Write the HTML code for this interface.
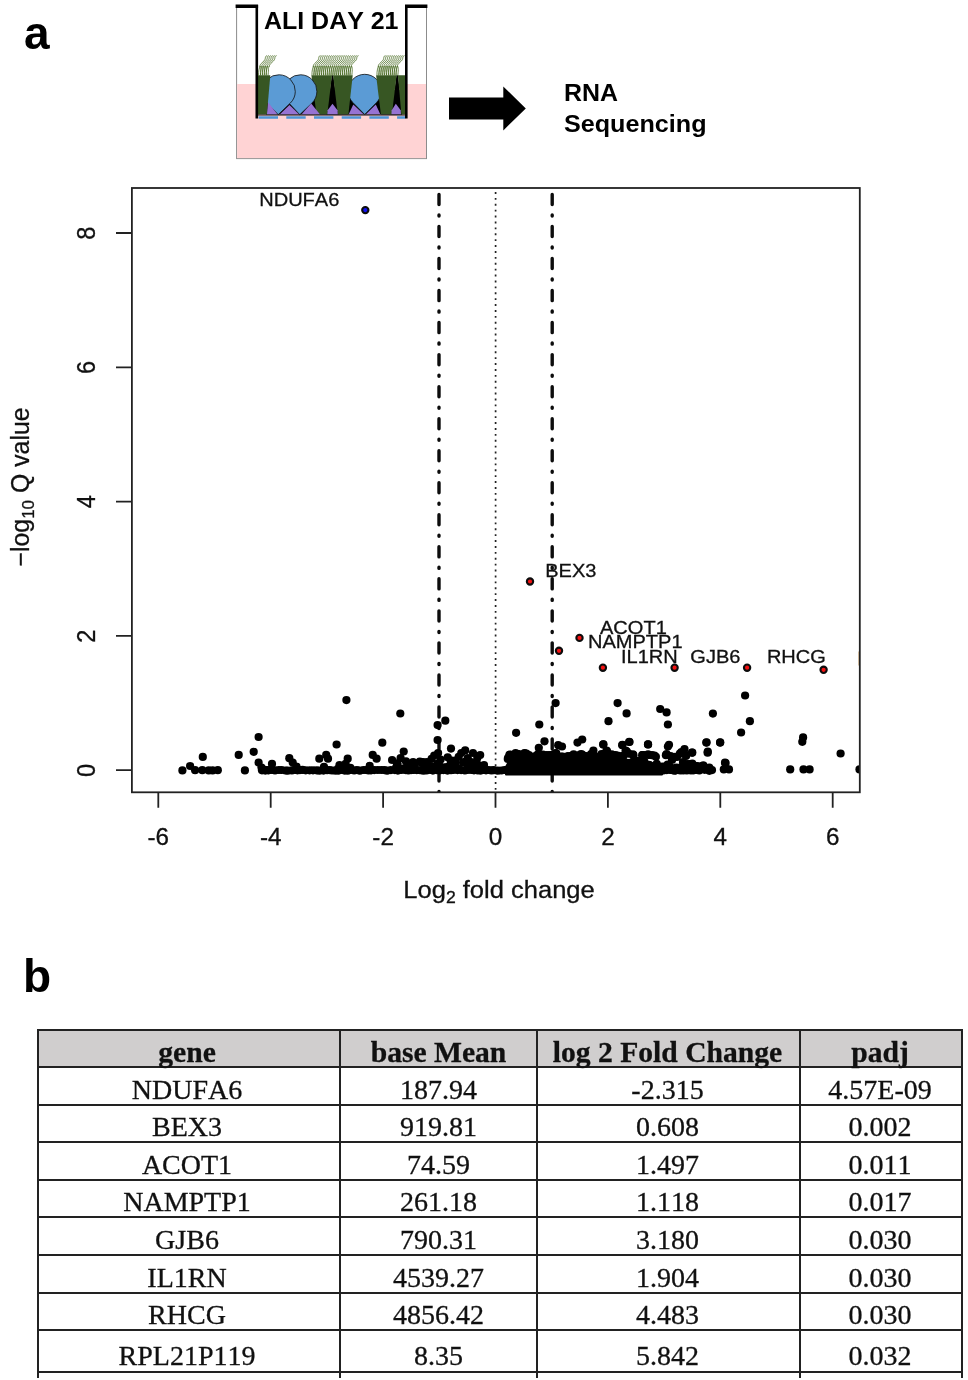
<!DOCTYPE html>
<html lang="en">
<head>
<meta charset="utf-8">
<title>Figure: RNA sequencing volcano plot</title>
<style>
html,body{margin:0;padding:0;background:#fff;}
body{width:968px;height:1380px;position:relative;overflow:hidden;will-change:transform;font-family:"Liberation Sans",sans-serif;color:#000;}
.panel{position:absolute;font-weight:bold;font-size:46px;line-height:46px;left:23px;}
#fig{position:absolute;left:0;top:0;width:968px;height:1000px;}
#fig text{font-family:"Liberation Sans",sans-serif;fill:#111;font-kerning:none;stroke:#111;stroke-width:.3px;}
#fig .b{font-weight:bold;fill:#000;stroke:none;}
table{position:absolute;left:37px;top:1029px;border-collapse:collapse;font-family:"Liberation Serif",serif;font-size:28px;color:#111;table-layout:fixed;font-kerning:none;-webkit-text-stroke:0.3px #111;}
td,th{border:2px solid #222;padding:0;text-align:center;vertical-align:bottom;height:35.6px;line-height:28px;overflow:visible;white-space:nowrap;}
th{background:#d0cece;font-size:29.6px;font-weight:bold;height:35px;}
td:nth-child(1),th:nth-child(1){padding-right:4px;}
td:nth-child(3),th:nth-child(3),td:nth-child(4),th:nth-child(4){padding-right:2px;}
tr:last-child td{height:38.6px;padding-bottom:1px;}
.stub{position:absolute;top:1372px;width:2px;height:6px;background:#222;}
</style>
</head>
<body>
<div class="panel" style="top:10px;left:24px">a</div>
<div class="panel" style="top:953px">b</div>
<svg id="fig" viewBox="0 0 968 1000">
<g id="ali">
<rect x="236.6" y="6" width="189.9" height="152.6" fill="#fff" stroke="#8c8c8c" stroke-width="1"/>
<rect x="237.1" y="84" width="188.9" height="74.1" fill="#ffd3d4"/>
<rect x="258" y="4" width="148" height="4" fill="#fff"/>
<rect x="258" y="8" width="147.5" height="76" fill="#fff"/>
<rect x="266" y="90" width="136" height="24.5" fill="#000"/>
<path d="M331.8 75.3L333.3 75.3L338.5 114.5L326.6 114.5Z" fill="#000"/>
<path d="M396.4 75.3L398.1 75.3L402.1 114.5L391.2 114.5Z" fill="#000"/>
<path d="M0 23.5L-11.7 11.7A16.6 16.6 0 1 1 11.7 11.7Z" transform="translate(364.7 91.0) rotate(0.0)" fill="#5b9bd5" stroke="#111" stroke-width=".8" stroke-linejoin="round"/>
<path d="M311.4 75.3L332.0 75.3L327.3 114.5L316.5 114.5Z" fill="#375623"/>
<path d="M333.1 75.3L352.7 75.3L348.4 114.5L337.8 114.5Z" fill="#375623"/>
<path d="M376.1 75.3L396.6 75.3L391.9 114.5L380.9 114.5Z" fill="#375623"/>
<path d="M397.9 75.3L405.3 75.3L405.3 114.5L401.4 114.5Z" fill="#375623"/>
<path d="M0 23.4L-11.7 11.6A16.5 16.5 0 1 1 11.7 11.6Z" transform="translate(300.4 91.3) rotate(1.5)" fill="#5b9bd5" stroke="#111" stroke-width=".8" stroke-linejoin="round"/>
<path d="M0 23.4L-11.7 11.6A16.5 16.5 0 1 1 11.7 11.6Z" transform="translate(278.8 91.3) rotate(1.5)" fill="#5b9bd5" stroke="#111" stroke-width=".8" stroke-linejoin="round"/>
<path d="M257.9 75.3L270.3 75.3L266.9 114.5L257.9 114.5Z" fill="#375623"/>
<path d="M266.9 114.5L268.1 102.2L277.6 114.5Z" fill="#9673d3"/>
<path d="M279.6 114.5L289.5 105.0L299.2 114.5Z" fill="#9673d3"/>
<path d="M301.4 114.5L311.2 103.6L320.1 114.5Z" fill="#9673d3"/>
<path d="M327.3 114.5L327.6 110.3L332.5 103.8L337.5 110.3L337.8 114.5Z" fill="#9673d3"/>
<path d="M348.6 114.5L353.3 104.6L363.9 114.5Z" fill="#9673d3"/>
<path d="M365.6 114.5L375.8 104.6L380.4 114.5Z" fill="#9673d3"/>
<path d="M391.4 114.5L391.7 110.3L395.8 103.8L400.7 110.3L401.0 114.5Z" fill="#9673d3"/>
<path d="M258.6 75.4c-.2-4.2 .6-7.4 1.6-9.2c1 .9 .7 5.6 .2 9.2M260.5 75.4c-.2-4.2 .6-7.4 1.6-9.2c1 .9 .7 5.6 .2 9.2M262.4 75.4c-.2-4.2 .6-7.4 1.6-9.2c1 .9 .7 5.6 .2 9.2M264.3 75.4c-.2-4.2 .6-7.4 1.6-9.2c1 .9 .7 5.6 .2 9.2M266.2 75.4c-.2-4.2 .6-7.4 1.6-9.2c1 .9 .7 5.6 .2 9.2M259.8 67.2c0-1.6 .4-2.6 1.4-3.6l2.8-2.7c1-1 1.3-2 1.4-3.3s.7-1.6 1.7-2M261.7 67.2c0-1.6 .4-2.6 1.4-3.6l2.8-2.7c1-1 1.3-2 1.4-3.3s.7-1.6 1.7-2M263.6 67.2c0-1.6 .4-2.6 1.4-3.6l2.8-2.7c1-1 1.3-2 1.4-3.3s.7-1.6 1.7-2M265.5 67.2c0-1.6 .4-2.6 1.4-3.6l2.8-2.7c1-1 1.3-2 1.4-3.3s.7-1.6 1.7-2M267.4 67.2c0-1.6 .4-2.6 1.4-3.6l2.8-2.7c1-1 1.3-2 1.4-3.3s.7-1.6 1.7-2M269.3 67.2c0-1.6 .4-2.6 1.4-3.6l2.8-2.7c1-1 1.3-2 1.4-3.3s.7-1.6 1.7-2M312.0 75.4c-.2-4.2 .6-7.4 1.6-9.2c1 .9 .7 5.6 .2 9.2M313.9 75.4c-.2-4.2 .6-7.4 1.6-9.2c1 .9 .7 5.6 .2 9.2M315.8 75.4c-.2-4.2 .6-7.4 1.6-9.2c1 .9 .7 5.6 .2 9.2M317.7 75.4c-.2-4.2 .6-7.4 1.6-9.2c1 .9 .7 5.6 .2 9.2M319.6 75.4c-.2-4.2 .6-7.4 1.6-9.2c1 .9 .7 5.6 .2 9.2M321.5 75.4c-.2-4.2 .6-7.4 1.6-9.2c1 .9 .7 5.6 .2 9.2M323.4 75.4c-.2-4.2 .6-7.4 1.6-9.2c1 .9 .7 5.6 .2 9.2M325.3 75.4c-.2-4.2 .6-7.4 1.6-9.2c1 .9 .7 5.6 .2 9.2M327.2 75.4c-.2-4.2 .6-7.4 1.6-9.2c1 .9 .7 5.6 .2 9.2M329.1 75.4c-.2-4.2 .6-7.4 1.6-9.2c1 .9 .7 5.6 .2 9.2M331.0 75.4c-.2-4.2 .6-7.4 1.6-9.2c1 .9 .7 5.6 .2 9.2M332.9 75.4c-.2-4.2 .6-7.4 1.6-9.2c1 .9 .7 5.6 .2 9.2M334.8 75.4c-.2-4.2 .6-7.4 1.6-9.2c1 .9 .7 5.6 .2 9.2M336.7 75.4c-.2-4.2 .6-7.4 1.6-9.2c1 .9 .7 5.6 .2 9.2M338.6 75.4c-.2-4.2 .6-7.4 1.6-9.2c1 .9 .7 5.6 .2 9.2M340.5 75.4c-.2-4.2 .6-7.4 1.6-9.2c1 .9 .7 5.6 .2 9.2M342.4 75.4c-.2-4.2 .6-7.4 1.6-9.2c1 .9 .7 5.6 .2 9.2M344.3 75.4c-.2-4.2 .6-7.4 1.6-9.2c1 .9 .7 5.6 .2 9.2M346.2 75.4c-.2-4.2 .6-7.4 1.6-9.2c1 .9 .7 5.6 .2 9.2M348.1 75.4c-.2-4.2 .6-7.4 1.6-9.2c1 .9 .7 5.6 .2 9.2M350.0 75.4c-.2-4.2 .6-7.4 1.6-9.2c1 .9 .7 5.6 .2 9.2M313.2 67.2c0-1.6 .4-2.6 1.4-3.6l2.8-2.7c1-1 1.3-2 1.4-3.3s.7-1.6 1.7-2M315.1 67.2c0-1.6 .4-2.6 1.4-3.6l2.8-2.7c1-1 1.3-2 1.4-3.3s.7-1.6 1.7-2M317.0 67.2c0-1.6 .4-2.6 1.4-3.6l2.8-2.7c1-1 1.3-2 1.4-3.3s.7-1.6 1.7-2M318.9 67.2c0-1.6 .4-2.6 1.4-3.6l2.8-2.7c1-1 1.3-2 1.4-3.3s.7-1.6 1.7-2M320.8 67.2c0-1.6 .4-2.6 1.4-3.6l2.8-2.7c1-1 1.3-2 1.4-3.3s.7-1.6 1.7-2M322.7 67.2c0-1.6 .4-2.6 1.4-3.6l2.8-2.7c1-1 1.3-2 1.4-3.3s.7-1.6 1.7-2M324.6 67.2c0-1.6 .4-2.6 1.4-3.6l2.8-2.7c1-1 1.3-2 1.4-3.3s.7-1.6 1.7-2M326.5 67.2c0-1.6 .4-2.6 1.4-3.6l2.8-2.7c1-1 1.3-2 1.4-3.3s.7-1.6 1.7-2M328.4 67.2c0-1.6 .4-2.6 1.4-3.6l2.8-2.7c1-1 1.3-2 1.4-3.3s.7-1.6 1.7-2M330.3 67.2c0-1.6 .4-2.6 1.4-3.6l2.8-2.7c1-1 1.3-2 1.4-3.3s.7-1.6 1.7-2M332.2 67.2c0-1.6 .4-2.6 1.4-3.6l2.8-2.7c1-1 1.3-2 1.4-3.3s.7-1.6 1.7-2M334.1 67.2c0-1.6 .4-2.6 1.4-3.6l2.8-2.7c1-1 1.3-2 1.4-3.3s.7-1.6 1.7-2M336.0 67.2c0-1.6 .4-2.6 1.4-3.6l2.8-2.7c1-1 1.3-2 1.4-3.3s.7-1.6 1.7-2M337.9 67.2c0-1.6 .4-2.6 1.4-3.6l2.8-2.7c1-1 1.3-2 1.4-3.3s.7-1.6 1.7-2M339.8 67.2c0-1.6 .4-2.6 1.4-3.6l2.8-2.7c1-1 1.3-2 1.4-3.3s.7-1.6 1.7-2M341.7 67.2c0-1.6 .4-2.6 1.4-3.6l2.8-2.7c1-1 1.3-2 1.4-3.3s.7-1.6 1.7-2M343.6 67.2c0-1.6 .4-2.6 1.4-3.6l2.8-2.7c1-1 1.3-2 1.4-3.3s.7-1.6 1.7-2M345.5 67.2c0-1.6 .4-2.6 1.4-3.6l2.8-2.7c1-1 1.3-2 1.4-3.3s.7-1.6 1.7-2M347.4 67.2c0-1.6 .4-2.6 1.4-3.6l2.8-2.7c1-1 1.3-2 1.4-3.3s.7-1.6 1.7-2M349.3 67.2c0-1.6 .4-2.6 1.4-3.6l2.8-2.7c1-1 1.3-2 1.4-3.3s.7-1.6 1.7-2M351.2 67.2c0-1.6 .4-2.6 1.4-3.6l2.8-2.7c1-1 1.3-2 1.4-3.3s.7-1.6 1.7-2M377.0 75.4c-.2-4.2 .6-7.4 1.6-9.2c1 .9 .7 5.6 .2 9.2M378.9 75.4c-.2-4.2 .6-7.4 1.6-9.2c1 .9 .7 5.6 .2 9.2M380.8 75.4c-.2-4.2 .6-7.4 1.6-9.2c1 .9 .7 5.6 .2 9.2M382.7 75.4c-.2-4.2 .6-7.4 1.6-9.2c1 .9 .7 5.6 .2 9.2M384.6 75.4c-.2-4.2 .6-7.4 1.6-9.2c1 .9 .7 5.6 .2 9.2M386.5 75.4c-.2-4.2 .6-7.4 1.6-9.2c1 .9 .7 5.6 .2 9.2M388.4 75.4c-.2-4.2 .6-7.4 1.6-9.2c1 .9 .7 5.6 .2 9.2M390.3 75.4c-.2-4.2 .6-7.4 1.6-9.2c1 .9 .7 5.6 .2 9.2M392.2 75.4c-.2-4.2 .6-7.4 1.6-9.2c1 .9 .7 5.6 .2 9.2M394.1 75.4c-.2-4.2 .6-7.4 1.6-9.2c1 .9 .7 5.6 .2 9.2M396.0 75.4c-.2-4.2 .6-7.4 1.6-9.2c1 .9 .7 5.6 .2 9.2M378.2 67.2c0-1.6 .4-2.6 1.4-3.6l2.8-2.7c1-1 1.3-2 1.4-3.3s.7-1.6 1.7-2M380.1 67.2c0-1.6 .4-2.6 1.4-3.6l2.8-2.7c1-1 1.3-2 1.4-3.3s.7-1.6 1.7-2M382.0 67.2c0-1.6 .4-2.6 1.4-3.6l2.8-2.7c1-1 1.3-2 1.4-3.3s.7-1.6 1.7-2M383.9 67.2c0-1.6 .4-2.6 1.4-3.6l2.8-2.7c1-1 1.3-2 1.4-3.3s.7-1.6 1.7-2M385.8 67.2c0-1.6 .4-2.6 1.4-3.6l2.8-2.7c1-1 1.3-2 1.4-3.3s.7-1.6 1.7-2M387.7 67.2c0-1.6 .4-2.6 1.4-3.6l2.8-2.7c1-1 1.3-2 1.4-3.3s.7-1.6 1.7-2M389.6 67.2c0-1.6 .4-2.6 1.4-3.6l2.8-2.7c1-1 1.3-2 1.4-3.3s.7-1.6 1.7-2M391.5 67.2c0-1.6 .4-2.6 1.4-3.6l2.8-2.7c1-1 1.3-2 1.4-3.3s.7-1.6 1.7-2M393.4 67.2c0-1.6 .4-2.6 1.4-3.6l2.8-2.7c1-1 1.3-2 1.4-3.3s.7-1.6 1.7-2M395.3 67.2c0-1.6 .4-2.6 1.4-3.6l2.8-2.7c1-1 1.3-2 1.4-3.3s.7-1.6 1.7-2M397.2 67.2c0-1.6 .4-2.6 1.4-3.6l2.8-2.7c1-1 1.3-2 1.4-3.3s.7-1.6 1.7-2" fill="none" stroke="#476a20" stroke-width=".78"/>
<rect x="407.6" y="50" width="18.4" height="33.9" fill="#fff"/>
<path d="M257 115H406" stroke="#111" stroke-width="1.2"/>
<path d="M258.6 117.5H405.3" stroke="#4e95d6" stroke-width="2.3" stroke-dasharray="19.4 8.3"/>
<path d="M256.8 5V118.6M406.3 5V118.6" fill="none" stroke="#000" stroke-width="2.6"/>
<path d="M235.6 6.2H258.1M405 6.2H427.4" fill="none" stroke="#000" stroke-width="3.4"/>
<text class="b" x="264" y="29" font-size="24" textLength="134.5" lengthAdjust="spacingAndGlyphs">ALI DAY 21</text>
<path d="M449 97.4H503.3V86.4L525.8 108.4L503.3 130.4V119.5H449Z" fill="#000"/>
<text class="b" x="564" y="101.3" font-size="24" textLength="54" lengthAdjust="spacingAndGlyphs">RNA</text>
<text class="b" x="564" y="131.7" font-size="24" textLength="142.5" lengthAdjust="spacingAndGlyphs">Sequencing</text>
</g>
<g id="volcano">
<defs><clipPath id="cp"><rect x="131.9" y="188" width="727.9" height="604.3"/></clipPath></defs>
<g clip-path="url(#cp)">
<path d="M439 194.45V792" stroke="#0c0c0c" stroke-width="3.4" stroke-linecap="round" stroke-dasharray="10.1 10.4 1.1 10.43" fill="none"/>
<path d="M552.2 194.45V792" stroke="#0c0c0c" stroke-width="3.4" stroke-linecap="round" stroke-dasharray="10.1 10.4 1.1 10.43" fill="none"/>
<path d="M495.6 192V792" stroke="#222" stroke-width="1.7" stroke-dasharray="1.9 4" fill="none"/>
<path d="M506 774.4V767L511 757.5H600L640 761L662 766V774.4Z" fill="#000" stroke="#000" stroke-width="2" stroke-linejoin="round"/>
<g fill="#000"><circle cx="262" cy="770.3" r="4.1"/><circle cx="265.3" cy="770.6" r="4.1"/><circle cx="268.5" cy="770.3" r="4.1"/><circle cx="271.8" cy="770" r="4.1"/><circle cx="275" cy="770.4" r="4.1"/><circle cx="278.8" cy="770" r="4.1"/><circle cx="281.6" cy="770" r="4.1"/><circle cx="285.5" cy="770.5" r="4.1"/><circle cx="287.7" cy="770.7" r="4.1"/><circle cx="291.9" cy="770.4" r="4.1"/><circle cx="295.3" cy="770" r="4.1"/><circle cx="297.5" cy="770.3" r="4.1"/><circle cx="299.9" cy="770.1" r="4.1"/><circle cx="302.5" cy="769.9" r="4.1"/><circle cx="305.7" cy="770.3" r="4.1"/><circle cx="309.6" cy="770.3" r="4.1"/><circle cx="313" cy="770.3" r="4.1"/><circle cx="316.6" cy="770.3" r="4.1"/><circle cx="319.3" cy="770.7" r="4.1"/><circle cx="323.5" cy="770.6" r="4.1"/><circle cx="327.1" cy="770.2" r="4.1"/><circle cx="329.8" cy="770.1" r="4.1"/><circle cx="332.1" cy="770.5" r="4.1"/><circle cx="335.1" cy="770.6" r="4.1"/><circle cx="338.1" cy="770.7" r="4.1"/><circle cx="342" cy="769.9" r="4.1"/><circle cx="344.6" cy="770.6" r="4.1"/><circle cx="347.7" cy="770.7" r="4.1"/><circle cx="350.7" cy="770" r="4.1"/><circle cx="354.2" cy="770.5" r="4.1"/><circle cx="356.9" cy="770" r="4.1"/><circle cx="359.8" cy="770.7" r="4.1"/><circle cx="363.5" cy="770" r="4.1"/><circle cx="366.2" cy="770" r="4.1"/><circle cx="368.5" cy="770.5" r="4.1"/><circle cx="371.1" cy="770.3" r="4.1"/><circle cx="374.2" cy="770.1" r="4.1"/><circle cx="377.8" cy="770" r="4.1"/><circle cx="381.3" cy="770" r="4.1"/><circle cx="384.4" cy="770.1" r="4.1"/><circle cx="387.1" cy="770.7" r="4.1"/><circle cx="390.9" cy="770.1" r="4.1"/><circle cx="394.9" cy="770.1" r="4.1"/><circle cx="397.9" cy="770.6" r="4.1"/><circle cx="401.4" cy="770" r="4.1"/><circle cx="405.5" cy="770.1" r="4.1"/><circle cx="408.3" cy="770.5" r="4.1"/><circle cx="411.1" cy="770.1" r="4.1"/><circle cx="413.5" cy="770" r="4.1"/><circle cx="416.8" cy="770.1" r="4.1"/><circle cx="420.2" cy="770.2" r="4.1"/><circle cx="423.3" cy="770.7" r="4.1"/><circle cx="426.5" cy="770.4" r="4.1"/><circle cx="430.4" cy="770" r="4.1"/><circle cx="432.9" cy="770.6" r="4.1"/><circle cx="436.8" cy="770.1" r="4.1"/><circle cx="439.4" cy="770.5" r="4.1"/><circle cx="443.4" cy="770.1" r="4.1"/><circle cx="447.5" cy="770.6" r="4.1"/><circle cx="451" cy="770.2" r="4.1"/><circle cx="453.4" cy="769.9" r="4.1"/><circle cx="457.5" cy="770.1" r="4.1"/><circle cx="461.1" cy="770.1" r="4.1"/><circle cx="464.9" cy="770.4" r="4.1"/><circle cx="467.7" cy="770" r="4.1"/><circle cx="471.4" cy="770" r="4.1"/><circle cx="474" cy="770.3" r="4.1"/><circle cx="477.9" cy="770.4" r="4.1"/><circle cx="480.7" cy="770.6" r="4.1"/><circle cx="483.3" cy="769.9" r="4.1"/><circle cx="486" cy="770.3" r="4.1"/><circle cx="488.4" cy="770" r="4.1"/><circle cx="491.3" cy="770.4" r="4.1"/><circle cx="493.8" cy="770.2" r="4.1"/><circle cx="497.7" cy="770.7" r="4.1"/><circle cx="501.3" cy="770.5" r="4.1"/><circle cx="504.6" cy="770" r="4.1"/><circle cx="506.9" cy="769.9" r="4.1"/><circle cx="510.9" cy="770.5" r="4.1"/><circle cx="515" cy="769.9" r="4.1"/><circle cx="518.5" cy="770.3" r="4.1"/><circle cx="522.2" cy="770.2" r="4.1"/><circle cx="526.4" cy="770" r="4.1"/><circle cx="529.7" cy="770.5" r="4.1"/><circle cx="533.7" cy="770.5" r="4.1"/><circle cx="537.3" cy="770.5" r="4.1"/><circle cx="541.3" cy="770.2" r="4.1"/><circle cx="544.9" cy="770.6" r="4.1"/><circle cx="548.8" cy="770.2" r="4.1"/><circle cx="552.6" cy="770.6" r="4.1"/><circle cx="555.9" cy="770.4" r="4.1"/><circle cx="558.9" cy="770.4" r="4.1"/><circle cx="562.3" cy="770" r="4.1"/><circle cx="565.8" cy="770.7" r="4.1"/><circle cx="569.8" cy="770.5" r="4.1"/><circle cx="572.7" cy="770.5" r="4.1"/><circle cx="576.1" cy="770.3" r="4.1"/><circle cx="580" cy="770" r="4.1"/><circle cx="583.7" cy="769.9" r="4.1"/><circle cx="587.1" cy="770.3" r="4.1"/><circle cx="589.7" cy="770.5" r="4.1"/><circle cx="592.9" cy="770.4" r="4.1"/><circle cx="597" cy="770.1" r="4.1"/><circle cx="599.2" cy="770.1" r="4.1"/><circle cx="602.8" cy="770.1" r="4.1"/><circle cx="605.3" cy="770.6" r="4.1"/><circle cx="608.8" cy="770.3" r="4.1"/><circle cx="612.8" cy="770.2" r="4.1"/><circle cx="616.3" cy="770.1" r="4.1"/><circle cx="619.4" cy="770.5" r="4.1"/><circle cx="623.4" cy="770.6" r="4.1"/><circle cx="626.4" cy="770.4" r="4.1"/><circle cx="629.2" cy="770" r="4.1"/><circle cx="632.4" cy="770.6" r="4.1"/><circle cx="636.3" cy="770.5" r="4.1"/><circle cx="640.4" cy="770.1" r="4.1"/><circle cx="643" cy="770.3" r="4.1"/><circle cx="645.7" cy="770.1" r="4.1"/><circle cx="648.7" cy="770.4" r="4.1"/><circle cx="651.9" cy="770.2" r="4.1"/><circle cx="655.8" cy="770.7" r="4.1"/><circle cx="658.9" cy="770" r="4.1"/><circle cx="661.2" cy="770.6" r="4.1"/><circle cx="663.4" cy="770.5" r="4.1"/><circle cx="666.8" cy="770.1" r="4.1"/><circle cx="670.6" cy="769.9" r="4.1"/><circle cx="673" cy="770.3" r="4.1"/><circle cx="675.3" cy="770.6" r="4.1"/><circle cx="678" cy="770" r="4.1"/><circle cx="680.3" cy="770.4" r="4.1"/><circle cx="683.4" cy="770.4" r="4.1"/><circle cx="686.9" cy="770.5" r="4.1"/><circle cx="691" cy="770.4" r="4.1"/><circle cx="693.6" cy="770.3" r="4.1"/><circle cx="696.1" cy="769.9" r="4.1"/><circle cx="699.3" cy="770.5" r="4.1"/><circle cx="350.4" cy="767.8" r="4.1"/><circle cx="396.3" cy="767" r="4.1"/><circle cx="413.7" cy="769.4" r="4.1"/><circle cx="446.5" cy="767.5" r="4.1"/><circle cx="467.7" cy="765.5" r="4.1"/><circle cx="433.6" cy="767.1" r="4.1"/><circle cx="324" cy="766.8" r="4.1"/><circle cx="468.3" cy="768.7" r="4.1"/><circle cx="369.7" cy="765.8" r="4.1"/><circle cx="447.4" cy="767.8" r="4.1"/><circle cx="474.7" cy="766.7" r="4.1"/><circle cx="337.9" cy="768.8" r="4.1"/><circle cx="433.6" cy="768.3" r="4.1"/><circle cx="432.8" cy="766.9" r="4.1"/><circle cx="339.5" cy="765" r="4.1"/><circle cx="480.8" cy="766.2" r="4.1"/><circle cx="441.7" cy="768" r="4.1"/><circle cx="474.2" cy="765.2" r="4.1"/><circle cx="469.5" cy="767.9" r="4.1"/><circle cx="433.4" cy="767.5" r="4.1"/><circle cx="442.9" cy="768.4" r="4.1"/><circle cx="397.5" cy="763.8" r="4.1"/><circle cx="465.4" cy="761.6" r="4.1"/><circle cx="410" cy="765.8" r="4.1"/><circle cx="424.1" cy="768.4" r="4.1"/><circle cx="407.9" cy="766.6" r="4.1"/><circle cx="439.9" cy="767.6" r="4.1"/><circle cx="455" cy="760.5" r="4.1"/><circle cx="477.3" cy="758" r="4.1"/><circle cx="402.5" cy="768.5" r="4.1"/><circle cx="414.3" cy="765.3" r="4.1"/><circle cx="458.4" cy="768.4" r="4.1"/><circle cx="450.6" cy="760.4" r="4.1"/><circle cx="443.7" cy="767.8" r="4.1"/><circle cx="422.1" cy="762.6" r="4.1"/><circle cx="473.3" cy="763.1" r="4.1"/><circle cx="413.1" cy="762" r="4.1"/><circle cx="440.6" cy="759.5" r="4.1"/><circle cx="444.9" cy="767.3" r="4.1"/><circle cx="438.8" cy="763.7" r="4.1"/><circle cx="447.7" cy="757.3" r="4.1"/><circle cx="439.9" cy="766.9" r="4.1"/><circle cx="429.9" cy="767.2" r="4.1"/><circle cx="437.7" cy="763.5" r="4.1"/><circle cx="455.1" cy="763.9" r="4.1"/><circle cx="431" cy="766.7" r="4.1"/><circle cx="478.2" cy="765.8" r="4.1"/><circle cx="436.2" cy="767.4" r="4.1"/><circle cx="406" cy="761.4" r="4.1"/><circle cx="473.3" cy="765.7" r="4.1"/><circle cx="436.5" cy="767.8" r="4.1"/><circle cx="448.8" cy="766.3" r="4.1"/><circle cx="475.5" cy="763.6" r="4.1"/><circle cx="397" cy="763.3" r="4.1"/><circle cx="411.9" cy="768" r="4.1"/><circle cx="423" cy="762.2" r="4.1"/><circle cx="558.2" cy="760.8" r="4.1"/><circle cx="533.9" cy="759.1" r="4.1"/><circle cx="536.3" cy="762.5" r="4.1"/><circle cx="549.7" cy="767.3" r="4.1"/><circle cx="571.7" cy="763.6" r="4.1"/><circle cx="559.7" cy="764" r="4.1"/><circle cx="571.6" cy="767.9" r="4.1"/><circle cx="545.4" cy="760.6" r="4.1"/><circle cx="581.3" cy="762.2" r="4.1"/><circle cx="605.9" cy="761.4" r="4.1"/><circle cx="606.8" cy="767" r="4.1"/><circle cx="591.8" cy="757.9" r="4.1"/><circle cx="614.4" cy="766.1" r="4.1"/><circle cx="555.1" cy="756.2" r="4.1"/><circle cx="546.7" cy="755" r="4.1"/><circle cx="611.7" cy="768.5" r="4.1"/><circle cx="548.7" cy="759.2" r="4.1"/><circle cx="550.5" cy="768.8" r="4.1"/><circle cx="603.2" cy="764" r="4.1"/><circle cx="597.6" cy="768.4" r="4.1"/><circle cx="561.7" cy="759.8" r="4.1"/><circle cx="516.9" cy="767.2" r="4.1"/><circle cx="585.6" cy="756.4" r="4.1"/><circle cx="629.7" cy="769" r="4.1"/><circle cx="569.7" cy="758.7" r="4.1"/><circle cx="569.4" cy="759.8" r="4.1"/><circle cx="543.8" cy="769.2" r="4.1"/><circle cx="534.1" cy="769.7" r="4.1"/><circle cx="573.5" cy="762.4" r="4.1"/><circle cx="575" cy="768.1" r="4.1"/><circle cx="543.4" cy="767.2" r="4.1"/><circle cx="604.3" cy="755.7" r="4.1"/><circle cx="619.1" cy="769.1" r="4.1"/><circle cx="527.2" cy="755.7" r="4.1"/><circle cx="566.2" cy="758.6" r="4.1"/><circle cx="556.1" cy="763.2" r="4.1"/><circle cx="570.5" cy="763.7" r="4.1"/><circle cx="577.8" cy="770.1" r="4.1"/><circle cx="587.5" cy="757.4" r="4.1"/><circle cx="543" cy="763.4" r="4.1"/><circle cx="591.7" cy="764.1" r="4.1"/><circle cx="544.4" cy="767.8" r="4.1"/><circle cx="570.2" cy="770.1" r="4.1"/><circle cx="612.7" cy="759.5" r="4.1"/><circle cx="587.9" cy="757.1" r="4.1"/><circle cx="580.5" cy="764.1" r="4.1"/><circle cx="577.7" cy="762.6" r="4.1"/><circle cx="635" cy="761.9" r="4.1"/><circle cx="550.4" cy="756.4" r="4.1"/><circle cx="592.2" cy="758.4" r="4.1"/><circle cx="600.8" cy="764.1" r="4.1"/><circle cx="613.3" cy="758.5" r="4.1"/><circle cx="586.9" cy="758.6" r="4.1"/><circle cx="594.6" cy="764.1" r="4.1"/><circle cx="589.8" cy="769.2" r="4.1"/><circle cx="557.2" cy="763.1" r="4.1"/><circle cx="514.2" cy="764.9" r="4.1"/><circle cx="581.3" cy="760.8" r="4.1"/><circle cx="548" cy="755.8" r="4.1"/><circle cx="584" cy="765.1" r="4.1"/><circle cx="583.4" cy="761.6" r="4.1"/><circle cx="571.9" cy="764.3" r="4.1"/><circle cx="648.8" cy="764.9" r="4.1"/><circle cx="587.6" cy="758.6" r="4.1"/><circle cx="633.9" cy="770.1" r="4.1"/><circle cx="579.2" cy="759" r="4.1"/><circle cx="550.2" cy="764.2" r="4.1"/><circle cx="525.1" cy="767.3" r="4.1"/><circle cx="559.7" cy="768.8" r="4.1"/><circle cx="549.7" cy="756.4" r="4.1"/><circle cx="573.4" cy="762.5" r="4.1"/><circle cx="629.3" cy="763.9" r="4.1"/><circle cx="642" cy="764.3" r="4.1"/><circle cx="600.1" cy="769.1" r="4.1"/><circle cx="577.5" cy="758.7" r="4.1"/><circle cx="524" cy="756.1" r="4.1"/><circle cx="540.7" cy="763.1" r="4.1"/><circle cx="541.7" cy="762.7" r="4.1"/><circle cx="578.8" cy="769.4" r="4.1"/><circle cx="623.3" cy="765.2" r="4.1"/><circle cx="571.4" cy="761.2" r="4.1"/><circle cx="559" cy="765.9" r="4.1"/><circle cx="582.9" cy="761.7" r="4.1"/><circle cx="552.6" cy="759.3" r="4.1"/><circle cx="553.6" cy="770.1" r="4.1"/><circle cx="549.2" cy="769.6" r="4.1"/><circle cx="540.3" cy="758.8" r="4.1"/><circle cx="560.8" cy="756.6" r="4.1"/><circle cx="592.7" cy="769.5" r="4.1"/><circle cx="637.9" cy="760.9" r="4.1"/><circle cx="529.2" cy="756.4" r="4.1"/><circle cx="563.7" cy="763" r="4.1"/><circle cx="631.3" cy="767.6" r="4.1"/><circle cx="571.1" cy="756" r="4.1"/><circle cx="589.8" cy="763.1" r="4.1"/><circle cx="633.4" cy="761.6" r="4.1"/><circle cx="578.1" cy="768.5" r="4.1"/><circle cx="580" cy="763.3" r="4.1"/><circle cx="545.3" cy="769.5" r="4.1"/><circle cx="571.5" cy="768.4" r="4.1"/><circle cx="564.7" cy="760.1" r="4.1"/><circle cx="565.7" cy="766.3" r="4.1"/><circle cx="576.2" cy="763.9" r="4.1"/><circle cx="596.2" cy="762.2" r="4.1"/><circle cx="644.4" cy="761.7" r="4.1"/><circle cx="591.1" cy="766.7" r="4.1"/><circle cx="535.1" cy="756.6" r="4.1"/><circle cx="596.9" cy="760.7" r="4.1"/><circle cx="558.5" cy="766.1" r="4.1"/><circle cx="585.9" cy="761.7" r="4.1"/><circle cx="577" cy="760.6" r="4.1"/><circle cx="593.3" cy="767.4" r="4.1"/><circle cx="549.6" cy="755.3" r="4.1"/><circle cx="616.8" cy="758.9" r="4.1"/><circle cx="522.8" cy="769.4" r="4.1"/><circle cx="551.5" cy="763.8" r="4.1"/><circle cx="579.9" cy="768.7" r="4.1"/><circle cx="572.7" cy="769.2" r="4.1"/><circle cx="531.3" cy="760" r="4.1"/><circle cx="573.4" cy="760.6" r="4.1"/><circle cx="559.6" cy="763" r="4.1"/><circle cx="546" cy="765" r="4.1"/><circle cx="592.3" cy="757.5" r="4.1"/><circle cx="529.3" cy="768.5" r="4.1"/><circle cx="600.1" cy="760.8" r="4.1"/><circle cx="595.1" cy="767" r="4.1"/><circle cx="563.3" cy="766.4" r="4.1"/><circle cx="600.2" cy="764.7" r="4.1"/><circle cx="582.8" cy="755.2" r="4.1"/><circle cx="555.9" cy="761.9" r="4.1"/><circle cx="592.4" cy="756.2" r="4.1"/><circle cx="563.6" cy="764.7" r="4.1"/><circle cx="532.8" cy="756.9" r="4.1"/><circle cx="530" cy="769" r="4.1"/><circle cx="574.6" cy="762.9" r="4.1"/><circle cx="585.9" cy="765.7" r="4.1"/><circle cx="595.9" cy="769.1" r="4.1"/><circle cx="546.2" cy="760.2" r="4.1"/><circle cx="530.5" cy="765.7" r="4.1"/><circle cx="590.1" cy="759.7" r="4.1"/><circle cx="552.5" cy="768.1" r="4.1"/><circle cx="558.4" cy="759.2" r="4.1"/><circle cx="559.1" cy="768.5" r="4.1"/><circle cx="588.4" cy="761.6" r="4.1"/><circle cx="617.4" cy="758.2" r="4.1"/><circle cx="616.4" cy="764.6" r="4.1"/><circle cx="599.3" cy="765.6" r="4.1"/><circle cx="555.3" cy="764.2" r="4.1"/><circle cx="620.8" cy="759.2" r="4.1"/><circle cx="549.5" cy="764.8" r="4.1"/><circle cx="559" cy="764.7" r="4.1"/><circle cx="561.2" cy="764.4" r="4.1"/><circle cx="544.4" cy="761.7" r="4.1"/><circle cx="598.5" cy="762" r="4.1"/><circle cx="603.8" cy="762" r="4.1"/><circle cx="542.5" cy="758.7" r="4.1"/><circle cx="610.6" cy="766.4" r="4.1"/><circle cx="518.3" cy="762.4" r="4.1"/><circle cx="572.9" cy="761.6" r="4.1"/><circle cx="629.1" cy="763" r="4.1"/><circle cx="599.5" cy="769.3" r="4.1"/><circle cx="573.1" cy="758.2" r="4.1"/><circle cx="530.9" cy="769.1" r="4.1"/><circle cx="591.4" cy="756.5" r="4.1"/><circle cx="531" cy="760.6" r="4.1"/><circle cx="538.9" cy="758.9" r="4.1"/><circle cx="582.3" cy="766.5" r="4.1"/><circle cx="546.9" cy="758.6" r="4.1"/><circle cx="571" cy="758.6" r="4.1"/><circle cx="561.1" cy="765.1" r="4.1"/><circle cx="629.7" cy="762.8" r="4.1"/><circle cx="568.7" cy="762.1" r="4.1"/><circle cx="589.7" cy="759.5" r="4.1"/><circle cx="616.7" cy="765" r="4.1"/><circle cx="602.4" cy="760.3" r="4.1"/><circle cx="606.3" cy="758.7" r="4.1"/><circle cx="603.4" cy="757.1" r="4.1"/><circle cx="626.5" cy="762.9" r="4.1"/><circle cx="571.2" cy="759.4" r="4.1"/><circle cx="599.2" cy="763.8" r="4.1"/><circle cx="563" cy="768.1" r="4.1"/><circle cx="591.9" cy="755.1" r="4.1"/><circle cx="559.7" cy="767.7" r="4.1"/><circle cx="545.4" cy="763.8" r="4.1"/><circle cx="553.3" cy="755.5" r="4.1"/><circle cx="526.7" cy="765.6" r="4.1"/><circle cx="535.3" cy="760.4" r="4.1"/><circle cx="595.9" cy="767.6" r="4.1"/><circle cx="527.3" cy="763.3" r="4.1"/><circle cx="576.3" cy="756.4" r="4.1"/><circle cx="522" cy="768.6" r="4.1"/><circle cx="543.4" cy="767" r="4.1"/><circle cx="548.3" cy="759.3" r="4.1"/><circle cx="577.3" cy="766.9" r="4.1"/><circle cx="543.4" cy="766" r="4.1"/><circle cx="542.1" cy="758.7" r="4.1"/><circle cx="554.9" cy="761.9" r="4.1"/><circle cx="601.1" cy="763" r="4.1"/><circle cx="550.6" cy="756.7" r="4.1"/><circle cx="616.5" cy="765.9" r="4.1"/><circle cx="573.1" cy="755.7" r="4.1"/><circle cx="567.8" cy="766.9" r="4.1"/><circle cx="524.9" cy="755.8" r="4.1"/><circle cx="599.1" cy="764.4" r="4.1"/><circle cx="571.5" cy="762.4" r="4.1"/><circle cx="551.8" cy="755.1" r="4.1"/><circle cx="583.1" cy="766.7" r="4.1"/><circle cx="514.3" cy="763.1" r="4.1"/><circle cx="559.4" cy="758.1" r="4.1"/><circle cx="588.8" cy="761" r="4.1"/><circle cx="540.4" cy="767.9" r="4.1"/><circle cx="555.7" cy="766.3" r="4.1"/><circle cx="608.7" cy="763" r="4.1"/><circle cx="581.2" cy="755.1" r="4.1"/><circle cx="551.1" cy="762.1" r="4.1"/><circle cx="539.7" cy="758.5" r="4.1"/><circle cx="508.3" cy="757.7" r="4.1"/><circle cx="605.2" cy="758.3" r="4.1"/><circle cx="530.6" cy="766.2" r="4.1"/><circle cx="589.2" cy="768.8" r="4.1"/><circle cx="567.6" cy="763.1" r="4.1"/><circle cx="625.9" cy="763.5" r="4.1"/><circle cx="606.9" cy="765.9" r="4.1"/><circle cx="597.6" cy="763.9" r="4.1"/><circle cx="617" cy="769.1" r="4.1"/><circle cx="602.4" cy="767.2" r="4.1"/><circle cx="572.8" cy="762.3" r="4.1"/><circle cx="540.4" cy="757.6" r="4.1"/><circle cx="554.8" cy="765.5" r="4.1"/><circle cx="529.6" cy="765.6" r="4.1"/><circle cx="562.7" cy="756.6" r="4.1"/><circle cx="550.1" cy="756.4" r="4.1"/><circle cx="520.4" cy="755" r="4.1"/><circle cx="562" cy="757.8" r="4.1"/><circle cx="605.1" cy="756.3" r="4.1"/><circle cx="509.4" cy="754.9" r="4.1"/><circle cx="591.1" cy="754.2" r="4.1"/><circle cx="574" cy="755.3" r="4.1"/><circle cx="509.2" cy="758" r="4.1"/><circle cx="601.5" cy="754" r="4.1"/><circle cx="580.1" cy="754.5" r="4.1"/><circle cx="552" cy="755.7" r="4.1"/><circle cx="542.9" cy="754.7" r="4.1"/><circle cx="553.9" cy="756.3" r="4.1"/><circle cx="538" cy="754" r="4.1"/><circle cx="593.6" cy="754.6" r="4.1"/><circle cx="618.6" cy="755.8" r="4.1"/><circle cx="592.7" cy="754.7" r="4.1"/><circle cx="604.7" cy="753.5" r="4.1"/><circle cx="524.5" cy="753.5" r="4.1"/><circle cx="587.3" cy="756.5" r="4.1"/><circle cx="529" cy="755" r="4.1"/><circle cx="605.9" cy="756" r="4.1"/><circle cx="518.5" cy="754.1" r="4.1"/><circle cx="526.4" cy="753.6" r="4.1"/><circle cx="555.6" cy="753.4" r="4.1"/><circle cx="615.7" cy="755.1" r="4.1"/><circle cx="567.9" cy="756.2" r="4.1"/><circle cx="597.7" cy="757.1" r="4.1"/><circle cx="553.2" cy="754.7" r="4.1"/><circle cx="556.2" cy="753.1" r="4.1"/><circle cx="554.9" cy="756.5" r="4.1"/><circle cx="622.9" cy="756.9" r="4.1"/><circle cx="585.2" cy="756" r="4.1"/><circle cx="510.2" cy="754.7" r="4.1"/><circle cx="548" cy="756.3" r="4.1"/><circle cx="520.4" cy="754.9" r="4.1"/><circle cx="567.6" cy="756.9" r="4.1"/><circle cx="604.5" cy="756.1" r="4.1"/><circle cx="526.5" cy="756.8" r="4.1"/><circle cx="613.7" cy="755.7" r="4.1"/><circle cx="549.2" cy="755.5" r="4.1"/><circle cx="524.6" cy="756.6" r="4.1"/><circle cx="623.5" cy="755.6" r="4.1"/><circle cx="591.7" cy="757.2" r="4.1"/><circle cx="531.1" cy="757.7" r="4.1"/><circle cx="581.4" cy="754" r="4.1"/><circle cx="517.7" cy="754.2" r="4.1"/><circle cx="575.4" cy="756.5" r="4.1"/><circle cx="546.5" cy="757.6" r="4.1"/><circle cx="550.3" cy="755.3" r="4.1"/><circle cx="522.5" cy="757.9" r="4.1"/><circle cx="523.9" cy="757.5" r="4.1"/><circle cx="571.6" cy="755.8" r="4.1"/><circle cx="573.6" cy="754.3" r="4.1"/><circle cx="614.4" cy="758" r="4.1"/><circle cx="603.6" cy="756" r="4.1"/><circle cx="522.4" cy="757.1" r="4.1"/><circle cx="541.8" cy="757.5" r="4.1"/><circle cx="536.2" cy="755.9" r="4.1"/><circle cx="650" cy="765.4" r="4.1"/><circle cx="652.3" cy="767.7" r="4.1"/><circle cx="654.4" cy="770.3" r="4.1"/><circle cx="656.7" cy="763.9" r="4.1"/><circle cx="660.2" cy="766.8" r="4.1"/><circle cx="662.7" cy="766.7" r="4.1"/><circle cx="665.9" cy="768.8" r="4.1"/><circle cx="668.8" cy="765.6" r="4.1"/><circle cx="670.9" cy="769.7" r="4.1"/><circle cx="673.6" cy="769.9" r="4.1"/><circle cx="676.2" cy="767.5" r="4.1"/><circle cx="678.5" cy="767.9" r="4.1"/><circle cx="680.9" cy="767.5" r="4.1"/><circle cx="683.5" cy="767" r="4.1"/><circle cx="685.5" cy="766.7" r="4.1"/><circle cx="687.7" cy="764.2" r="4.1"/><circle cx="690.7" cy="768.2" r="4.1"/><circle cx="693.4" cy="767.1" r="4.1"/><circle cx="696.5" cy="766" r="4.1"/><circle cx="699.7" cy="768.1" r="4.1"/><circle cx="703.3" cy="765.3" r="4.1"/><circle cx="706.6" cy="768.6" r="4.1"/><circle cx="709.3" cy="767.5" r="4.1"/><circle cx="182.4" cy="770.4" r="4.1"/><circle cx="190.1" cy="766" r="4.1"/><circle cx="195.1" cy="770.2" r="4.1"/><circle cx="202.8" cy="756.9" r="4.1"/><circle cx="202.3" cy="770.2" r="4.1"/><circle cx="208.7" cy="770.4" r="4.1"/><circle cx="212.6" cy="770.4" r="4.1"/><circle cx="217.8" cy="770.2" r="4.1"/><circle cx="238.7" cy="754.9" r="4.1"/><circle cx="244.9" cy="770.4" r="4.1"/><circle cx="253.7" cy="751.8" r="4.1"/><circle cx="258.6" cy="737" r="4.1"/><circle cx="258.6" cy="762.6" r="4.1"/><circle cx="261.5" cy="767.5" r="4.1"/><circle cx="264.5" cy="769.8" r="4.1"/><circle cx="272" cy="763.9" r="4.1"/><circle cx="268" cy="770.1" r="4.1"/><circle cx="289.3" cy="758.2" r="4.1"/><circle cx="292.7" cy="762.6" r="4.1"/><circle cx="296.5" cy="766.5" r="4.1"/><circle cx="319.3" cy="758.7" r="4.1"/><circle cx="326.2" cy="754.9" r="4.1"/><circle cx="328" cy="758.7" r="4.1"/><circle cx="336.6" cy="744.5" r="4.1"/><circle cx="347.7" cy="758.7" r="4.1"/><circle cx="345.6" cy="763.9" r="4.1"/><circle cx="346.4" cy="700.1" r="4.1"/><circle cx="372.7" cy="754.9" r="4.1"/><circle cx="376.6" cy="758.7" r="4.1"/><circle cx="382.3" cy="742.7" r="4.1"/><circle cx="392.1" cy="760" r="4.1"/><circle cx="400.6" cy="758.2" r="4.1"/><circle cx="403.7" cy="751.5" r="4.1"/><circle cx="400.3" cy="713.5" r="4.1"/><circle cx="410.2" cy="763.9" r="4.1"/><circle cx="419.8" cy="761.7" r="4.1"/><circle cx="445.3" cy="720.7" r="4.1"/><circle cx="437.6" cy="725.1" r="4.1"/><circle cx="437.6" cy="740" r="4.1"/><circle cx="451" cy="748.6" r="4.1"/><circle cx="438.1" cy="753" r="4.1"/><circle cx="434.2" cy="755.5" r="4.1"/><circle cx="431.6" cy="758.9" r="4.1"/><circle cx="427" cy="762" r="4.1"/><circle cx="461.3" cy="753" r="4.1"/><circle cx="465.2" cy="750.4" r="4.1"/><circle cx="473" cy="753" r="4.1"/><circle cx="480.2" cy="755" r="4.1"/><circle cx="458.7" cy="756.8" r="4.1"/><circle cx="467.8" cy="758.1" r="4.1"/><circle cx="455" cy="761" r="4.1"/><circle cx="463" cy="762.5" r="4.1"/><circle cx="471" cy="762" r="4.1"/><circle cx="477" cy="763.5" r="4.1"/><circle cx="484" cy="765" r="4.1"/><circle cx="420" cy="762" r="4.1"/><circle cx="516.1" cy="732.8" r="4.1"/><circle cx="539.3" cy="724.5" r="4.1"/><circle cx="555.6" cy="703.1" r="4.1"/><circle cx="544.5" cy="741.3" r="4.1"/><circle cx="538.8" cy="747.8" r="4.1"/><circle cx="510.4" cy="755.5" r="4.1"/><circle cx="515.6" cy="753" r="4.1"/><circle cx="524.6" cy="753" r="4.1"/><circle cx="507.8" cy="758.9" r="4.1"/><circle cx="558.2" cy="745.2" r="4.1"/><circle cx="562" cy="746.5" r="4.1"/><circle cx="582.2" cy="739.5" r="4.1"/><circle cx="577.5" cy="742.6" r="4.1"/><circle cx="603.4" cy="744.4" r="4.1"/><circle cx="608.5" cy="721.2" r="4.1"/><circle cx="617.6" cy="703.1" r="4.1"/><circle cx="626.6" cy="713.4" r="4.1"/><circle cx="622.2" cy="745.2" r="4.1"/><circle cx="629.2" cy="741.8" r="4.1"/><circle cx="648" cy="744.4" r="4.1"/><circle cx="660.2" cy="709" r="4.1"/><circle cx="666.6" cy="712.4" r="4.1"/><circle cx="667.9" cy="724.5" r="4.1"/><circle cx="667.9" cy="746.5" r="4.1"/><circle cx="666.6" cy="754.2" r="4.1"/><circle cx="633.1" cy="755" r="4.1"/><circle cx="643.4" cy="755" r="4.1"/><circle cx="648.6" cy="755" r="4.1"/><circle cx="654.5" cy="755.5" r="4.1"/><circle cx="745.1" cy="695.5" r="4.1"/><circle cx="712.9" cy="713.6" r="4.1"/><circle cx="749.9" cy="721.2" r="4.1"/><circle cx="741.1" cy="732.5" r="4.1"/><circle cx="803.1" cy="737.4" r="4.1"/><circle cx="802.3" cy="741.8" r="4.1"/><circle cx="840.6" cy="753.5" r="4.1"/><circle cx="706.4" cy="742.6" r="4.1"/><circle cx="720.1" cy="742.6" r="4.1"/><circle cx="707.6" cy="752.7" r="4.1"/><circle cx="725" cy="762.7" r="4.1"/><circle cx="723.8" cy="769.4" r="4.1"/><circle cx="729" cy="769.4" r="4.1"/><circle cx="790.2" cy="769.4" r="4.1"/><circle cx="803.5" cy="769.4" r="4.1"/><circle cx="809.6" cy="769.4" r="4.1"/><circle cx="859.5" cy="769.4" r="4.1"/><circle cx="681.4" cy="752" r="4.1"/><circle cx="686" cy="756" r="4.1"/><circle cx="692" cy="752.7" r="4.1"/><circle cx="677" cy="757" r="4.1"/><circle cx="672" cy="760" r="4.1"/><circle cx="683" cy="762" r="4.1"/><circle cx="690" cy="764" r="4.1"/><circle cx="697" cy="766" r="4.1"/><circle cx="702" cy="768.6" r="4.1"/><circle cx="708" cy="769.6" r="4.1"/><circle cx="712" cy="770.1" r="4.1"/><circle cx="603.2" cy="744.4" r="4.1"/><circle cx="622.5" cy="744.8" r="4.1"/><circle cx="629.5" cy="742" r="4.1"/><circle cx="648.1" cy="744.4" r="4.1"/><circle cx="669" cy="744.8" r="4.1"/><circle cx="706.5" cy="742.4" r="4.1"/><circle cx="720.2" cy="742.4" r="4.1"/><circle cx="707.8" cy="751.7" r="4.1"/><circle cx="607" cy="751.3" r="4.1"/><circle cx="611.7" cy="754.4" r="4.1"/><circle cx="617.9" cy="756.8" r="4.1"/><circle cx="625.6" cy="750.6" r="4.1"/><circle cx="628.7" cy="753.7" r="4.1"/><circle cx="633.4" cy="755.2" r="4.1"/><circle cx="642.7" cy="755.2" r="4.1"/><circle cx="648.1" cy="754.4" r="4.1"/><circle cx="652" cy="755.2" r="4.1"/><circle cx="655.9" cy="756.8" r="4.1"/><circle cx="665.9" cy="755.2" r="4.1"/><circle cx="670.6" cy="756" r="4.1"/><circle cx="675.2" cy="756.8" r="4.1"/><circle cx="679.9" cy="753.7" r="4.1"/><circle cx="684.5" cy="749" r="4.1"/><circle cx="686.1" cy="755.2" r="4.1"/><circle cx="692.3" cy="752.6" r="4.1"/><circle cx="667.5" cy="764.5" r="4.1"/><circle cx="670.6" cy="767.6" r="4.1"/><circle cx="674.5" cy="770.5" r="4.1"/><circle cx="679.9" cy="769" r="4.1"/><circle cx="683" cy="766.1" r="4.1"/><circle cx="686.9" cy="769.8" r="4.1"/><circle cx="692.3" cy="763.7" r="4.1"/><circle cx="696.9" cy="766.8" r="4.1"/><circle cx="701.6" cy="766.1" r="4.1"/><circle cx="704.7" cy="769.8" r="4.1"/><circle cx="709.3" cy="770.8" r="4.1"/><circle cx="725.6" cy="763" r="4.1"/><circle cx="642.2" cy="755.2" r="4.1"/><circle cx="632.9" cy="754.4" r="4.1"/><circle cx="626.7" cy="751.3" r="4.1"/><circle cx="606.6" cy="750.6" r="4.1"/><circle cx="593.4" cy="750.6" r="4.1"/></g>
<g stroke="#0c0c0c" stroke-width="2.1">
<circle cx="365.3" cy="210.1" r="3.15" fill="#1212f4"/>
<circle cx="530" cy="581.5" r="3.15" fill="#f41212"/>
<circle cx="579.5" cy="637.9" r="3.15" fill="#f41212"/>
<circle cx="559" cy="650.8" r="3.15" fill="#f41212"/>
<circle cx="602.9" cy="667.7" r="3.15" fill="#f41212"/>
<circle cx="674.6" cy="667.7" r="3.15" fill="#f41212"/>
<circle cx="747.1" cy="667.7" r="3.15" fill="#f41212"/>
<circle cx="823.6" cy="669.8" r="3.15" fill="#f41212"/>
</g>
<path d="M858.6 651.5V665.5" stroke="#b07a30" stroke-width="1" opacity=".45"/>
<text font-size="19" transform="translate(259.2 205.8) scale(1.055 1)">NDUFA6</text>
<text font-size="19" transform="translate(545.2 577) scale(1.055 1)">BEX3</text>
<text font-size="19" transform="translate(600 633.5) scale(1.055 1)">ACOT1</text>
<text font-size="19" transform="translate(588 648) scale(1.055 1)">NAMPTP1</text>
<text font-size="19" transform="translate(621 663) scale(1.055 1)">IL1RN</text>
<text font-size="19" transform="translate(690.3 663) scale(1.055 1)">GJB6</text>
<text font-size="19" transform="translate(766.9 663) scale(1.055 1)">RHCG</text>
</g>
<g stroke="#222" stroke-width="1.8" fill="none">
<rect x="131.9" y="188" width="727.9" height="604.3"/>
<path d="M158.3 792.3V807.7M270.7 792.3V807.7M383.1 792.3V807.7M495.5 792.3V807.7M607.9 792.3V807.7M720.3 792.3V807.7M832.7 792.3V807.7M131.9 770.2H116M131.9 635.9H116M131.9 501.6H116M131.9 367.3H116M131.9 233H116"/>
</g>
<text font-size="23" text-anchor="middle" transform="translate(158.3 845.2) scale(1.055 1)">-6</text>
<text font-size="23" text-anchor="middle" transform="translate(270.7 845.2) scale(1.055 1)">-4</text>
<text font-size="23" text-anchor="middle" transform="translate(383.1 845.2) scale(1.055 1)">-2</text>
<text font-size="23" text-anchor="middle" transform="translate(495.5 845.2) scale(1.055 1)">0</text>
<text font-size="23" text-anchor="middle" transform="translate(607.9 845.2) scale(1.055 1)">2</text>
<text font-size="23" text-anchor="middle" transform="translate(720.3 845.2) scale(1.055 1)">4</text>
<text font-size="23" text-anchor="middle" transform="translate(832.7 845.2) scale(1.055 1)">6</text>
<text font-size="23.6" text-anchor="middle" transform="translate(94.9 770.4) scale(1.055 1) rotate(-90)">0</text>
<text font-size="23.6" text-anchor="middle" transform="translate(94.9 636.1) scale(1.055 1) rotate(-90)">2</text>
<text font-size="23.6" text-anchor="middle" transform="translate(94.9 501.8) scale(1.055 1) rotate(-90)">4</text>
<text font-size="23.6" text-anchor="middle" transform="translate(94.9 367.5) scale(1.055 1) rotate(-90)">6</text>
<text font-size="23.6" text-anchor="middle" transform="translate(94.9 233.2) scale(1.055 1) rotate(-90)">8</text>
<text font-size="24.2" text-anchor="middle" transform="translate(499 898.1) scale(1.055 1)">Log<tspan font-size="16.7" dy="4.6">2</tspan><tspan dy="-4.6"> fold change</tspan></text>
<text font-size="24.85" text-anchor="middle" transform="translate(29 487.0) scale(1.012 1) rotate(-90)">−log<tspan font-size="17" dy="4.6">10</tspan><tspan dy="-4.6"> Q value</tspan></text>
</g>
</svg>
<table><colgroup><col style="width:302px"><col style="width:197px"><col style="width:263px"><col style="width:162px"></colgroup>
<tr><th>gene</th><th>base Mean</th><th>log 2 Fold Change</th><th>padj</th></tr>
<tr><td>NDUFA6</td><td>187.94</td><td>-2.315</td><td>4.57E-09</td></tr>
<tr><td>BEX3</td><td>919.81</td><td>0.608</td><td>0.002</td></tr>
<tr><td>ACOT1</td><td>74.59</td><td>1.497</td><td>0.011</td></tr>
<tr><td>NAMPTP1</td><td>261.18</td><td>1.118</td><td>0.017</td></tr>
<tr><td>GJB6</td><td>790.31</td><td>3.180</td><td>0.030</td></tr>
<tr><td>IL1RN</td><td>4539.27</td><td>1.904</td><td>0.030</td></tr>
<tr><td>RHCG</td><td>4856.42</td><td>4.483</td><td>0.030</td></tr>
<tr><td>RPL21P119</td><td>8.35</td><td>5.842</td><td>0.032</td></tr>
</table>
<div class="stub" style="left:37px"></div>
<div class="stub" style="left:339px"></div>
<div class="stub" style="left:536px"></div>
<div class="stub" style="left:799px"></div>
<div class="stub" style="left:961px"></div>
</body>
</html>
